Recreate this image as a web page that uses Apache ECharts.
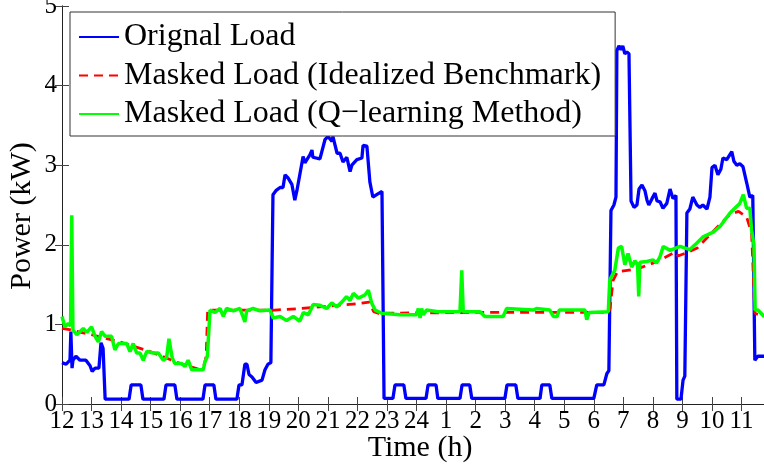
<!DOCTYPE html>
<html>
<head>
<meta charset="utf-8">
<script src="https://cdn.jsdelivr.net/npm/echarts@6/dist/echarts.min.js"></script>
<style>html,body{margin:0;padding:0;background:#fff}#c{width:764px;height:465px}</style>
</head>
<body>
<div id="c"></div>
<script>
// Tick labels of the time axis (hours, starting at noon)
var xTickLabels = ['12','13','14','15','16','17','18','19','20','21','22','23','24','1','2','3','4','5','6','7','8','9','10','11'];
var seriesNames = ['Orignal Load','Masked Load (Idealized Benchmark)','Masked Load (Q\u2212learning Method)'];

// [hours since 12:00, kW]
var originalLoad = [[0,0.52],[0.14,0.5],[0.27,0.55],[0.3,0.91],[0.34,0.45],[0.37,0.55],[0.47,0.6],[0.61,0.55],[0.81,0.55],[0.95,0.48],[1.02,0.41],[1.12,0.45],[1.25,0.45],[1.32,0.77],[1.39,0.7],[1.46,0.06],[2.27,0.06],[2.34,0.24],[2.67,0.24],[2.74,0.06],[3.45,0.06],[3.52,0.24],[3.82,0.24],[3.89,0.06],[4.77,0.06],[4.84,0.24],[5.14,0.24],[5.21,0.06],[5.92,0.06],[5.99,0.24],[6.09,0.24],[6.19,0.5],[6.26,0.5],[6.33,0.37],[6.43,0.34],[6.57,0.27],[6.63,0.27],[6.77,0.3],[6.87,0.43],[6.97,0.5],[7.07,0.52],[7.14,2.63],[7.24,2.68],[7.38,2.72],[7.48,2.72],[7.55,2.88],[7.65,2.84],[7.78,2.76],[7.88,2.56],[7.95,2.68],[8.16,3.11],[8.22,3.03],[8.39,3.13],[8.46,3.19],[8.49,3.1],[8.73,3.08],[8.9,3.32],[9.0,3.36],[9.14,3.3],[9.17,3.36],[9.31,3.15],[9.41,3.15],[9.51,3.04],[9.64,3.1],[9.75,2.92],[9.81,3.0],[9.98,3.07],[10.15,3.09],[10.19,3.25],[10.32,3.24],[10.42,2.79],[10.52,2.6],[10.69,2.64],[10.83,2.67],[10.9,0.07],[11.2,0.07],[11.27,0.24],[11.57,0.24],[11.64,0.07],[12.32,0.07],[12.39,0.24],[12.66,0.24],[12.72,0.07],[13.47,0.07],[13.54,0.24],[13.8,0.24],[13.87,0.07],[14.99,0.07],[15.06,0.24],[15.36,0.24],[15.43,0.07],[16.18,0.07],[16.24,0.24],[16.51,0.24],[16.58,0.07],[18.0,0.07],[18.1,0.24],[18.34,0.24],[18.44,0.38],[18.51,0.42],[18.58,2.43],[18.68,2.5],[18.75,2.6],[18.78,4.44],[18.85,4.5],[18.92,4.45],[18.98,4.5],[19.05,4.4],[19.12,4.42],[19.19,4.4],[19.26,2.55],[19.36,2.47],[19.46,2.5],[19.53,2.7],[19.63,2.75],[19.73,2.68],[19.8,2.56],[19.86,2.5],[19.97,2.58],[20.07,2.65],[20.14,2.55],[20.24,2.54],[20.34,2.46],[20.47,2.52],[20.58,2.7],[20.68,2.58],[20.78,2.62],[20.81,0.06],[20.95,0.06],[21.02,0.3],[21.08,0.35],[21.15,2.4],[21.25,2.45],[21.35,2.6],[21.49,2.5],[21.59,2.47],[21.69,2.5],[21.83,2.45],[21.93,2.6],[22.0,2.97],[22.1,3.0],[22.2,2.88],[22.3,2.95],[22.37,3.09],[22.5,3.07],[22.6,3.13],[22.67,3.17],[22.74,3.05],[22.84,3.0],[22.94,3.02],[23.05,2.98],[23.18,2.77],[23.28,2.6],[23.38,2.62],[23.45,0.55],[23.55,0.6],[23.76,0.6]];

var benchmarkLoad = [[0,0.95],[0.3,0.93],[1.0,0.87],[1.96,0.78],[2.98,0.66],[3.99,0.51],[4.67,0.43],[4.82,0.5],[4.88,0.6],[4.93,1.18],[7.2,1.18],[8.1,1.2],[9.0,1.23],[10.0,1.26],[10.4,1.28],[10.55,1.16],[10.7,1.14],[14.0,1.15],[18.5,1.15],[18.55,1.2],[18.65,1.55],[18.8,1.66],[19.5,1.7],[20.0,1.77],[20.35,1.83],[20.75,1.91],[20.85,1.86],[21.2,1.91],[21.5,1.96],[22.15,2.21],[22.6,2.38],[22.9,2.42],[23.17,2.35],[23.34,2.15],[23.45,1.14],[23.76,1.1]];

var qLearningLoad = [[0,1.1],[0.1,0.97],[0.21,1.01],[0.29,0.98],[0.33,2.37],[0.37,0.93],[0.5,0.87],[0.72,0.95],[0.84,0.9],[1.0,0.97],[1.12,0.85],[1.23,0.78],[1.34,0.91],[1.46,0.85],[1.68,0.85],[1.79,0.68],[1.91,0.76],[2.19,0.76],[2.3,0.66],[2.41,0.76],[2.53,0.64],[2.64,0.64],[2.75,0.55],[2.87,0.66],[3.09,0.64],[3.26,0.64],[3.43,0.55],[3.54,0.58],[3.62,0.82],[3.68,0.82],[3.73,0.58],[3.82,0.51],[4.05,0.51],[4.16,0.47],[4.27,0.55],[4.39,0.43],[4.78,0.43],[4.84,0.53],[4.92,0.6],[5.01,1.18],[5.18,1.15],[5.35,1.2],[5.46,1.1],[5.57,1.2],[5.8,1.17],[6.02,1.2],[6.19,1.03],[6.25,1.17],[6.47,1.2],[6.7,1.17],[7.04,1.18],[7.15,1.08],[7.38,1.1],[7.6,1.05],[7.83,1.1],[8.05,1.04],[8.17,1.15],[8.34,1.12],[8.5,1.25],[8.73,1.24],[8.96,1.2],[9.13,1.27],[9.3,1.22],[9.47,1.28],[9.63,1.35],[9.75,1.3],[9.86,1.39],[10.03,1.33],[10.25,1.37],[10.37,1.43],[10.48,1.27],[10.6,1.18],[10.82,1.14],[11.44,1.12],[12.0,1.12],[12.06,1.2],[12.12,1.08],[12.17,1.2],[12.23,1.12],[12.34,1.18],[12.73,1.16],[13.47,1.16],[13.53,1.68],[13.58,1.16],[14.15,1.16],[14.31,1.1],[14.93,1.1],[15.05,1.2],[15.95,1.18],[16.06,1.2],[16.51,1.18],[16.63,1.1],[16.76,1.1],[16.83,1.18],[17.7,1.18],[17.76,1.06],[17.84,1.15],[18.49,1.16],[18.54,1.56],[18.71,1.68],[18.83,1.96],[18.94,1.98],[19.05,1.75],[19.16,1.89],[19.28,1.72],[19.39,1.8],[19.48,1.75],[19.52,1.35],[19.56,1.78],[19.79,1.79],[20.01,1.81],[20.12,1.77],[20.24,1.85],[20.35,1.98],[20.58,1.93],[20.92,1.98],[21.25,1.94],[21.48,2.02],[21.7,2.1],[22.04,2.16],[22.27,2.23],[22.61,2.4],[22.72,2.44],[22.94,2.52],[23.06,2.63],[23.17,2.46],[23.28,2.46],[23.34,2.19],[23.42,2.0],[23.46,1.18],[23.56,1.18],[23.76,1.1]];

var FONT = 'Liberation Serif';
var chart = echarts.init(document.getElementById('c'), null, {renderer:'canvas'});
function xLabel(v){ return (Math.abs(v - Math.round(v)) < 1e-6 && xTickLabels[Math.round(v)] !== undefined) ? xTickLabels[Math.round(v)] : ''; }
var axisLineStyle = {color:'#222', width:1};
var tickStyle = {color:'#444', width:1};
chart.setOption({
  animation:false,
  backgroundColor:'#fff',
  grid:{left:62, right:0, top:6, bottom:61, containLabel:false, outerBoundsMode:'none'},
  legend:{
    orient:'vertical', left:70, top:12,
    padding:[9,14,6,8], itemGap:6.5, itemWidth:40, itemHeight:14,
    backgroundColor:'#fff', borderColor:'#333', borderWidth:1, borderRadius:0,
    itemStyle:{opacity:0},
    textStyle:{fontFamily:FONT, fontSize:32, color:'#000'},
    data:seriesNames
  },
  xAxis:[{
    type:'value', min:0, max:23.76, interval:1, position:'bottom',
    name:'Time (h)', nameLocation:'middle', nameGap:29, nameMoveOverlap:false,
    nameTextStyle:{fontFamily:FONT, fontSize:30, color:'#000', padding:[0,0,0,14]},
    axisLine:{show:true, lineStyle:axisLineStyle},
    axisTick:{show:true, inside:true, length:7, lineStyle:tickStyle},
    axisLabel:{fontFamily:FONT, fontSize:25, color:'#000', margin:5, formatter:xLabel, showMaxLabel:false},
    splitLine:{show:false}
  },{
    type:'value', min:0, max:23.76, interval:1, position:'top',
    axisLine:{show:true, lineStyle:axisLineStyle},
    axisTick:{show:true, inside:true, length:7, lineStyle:tickStyle},
    axisLabel:{show:false}, splitLine:{show:false}
  }],
  yAxis:[{
    type:'value', min:0, max:5, interval:1, position:'left',
    name:'Power (kW)', nameLocation:'middle', nameGap:25, nameMoveOverlap:false,
    nameTextStyle:{fontFamily:FONT, fontSize:30, color:'#000', padding:[0,22,0,0]},
    axisLine:{show:true, lineStyle:axisLineStyle},
    axisTick:{show:true, inside:true, length:7, lineStyle:tickStyle},
    axisLabel:{fontFamily:FONT, fontSize:25, color:'#000', margin:5},
    splitLine:{show:false}
  },{
    type:'value', min:0, max:5, interval:1, position:'right',
    axisLine:{show:true, lineStyle:axisLineStyle},
    axisTick:{show:true, inside:true, length:7, lineStyle:tickStyle},
    axisLabel:{show:false}, splitLine:{show:false}
  }],
  series:[{
    name:seriesNames[0], type:'line', data:originalLoad, symbol:'none',
    lineStyle:{color:'#0000ff', width:3.3}, itemStyle:{color:'#0000ff'}, z:2
  },{
    name:seriesNames[1], type:'line', data:benchmarkLoad, symbol:'none',
    lineStyle:{color:'#ff0000', width:2.8, type:[9,6]}, itemStyle:{color:'#ff0000'}, z:3
  },{
    name:seriesNames[2], type:'line', data:qLearningLoad, symbol:'none',
    lineStyle:{color:'#00ff00', width:3.5}, itemStyle:{color:'#00ff00'}, z:4
  }]
});
</script>
</body>
</html>
